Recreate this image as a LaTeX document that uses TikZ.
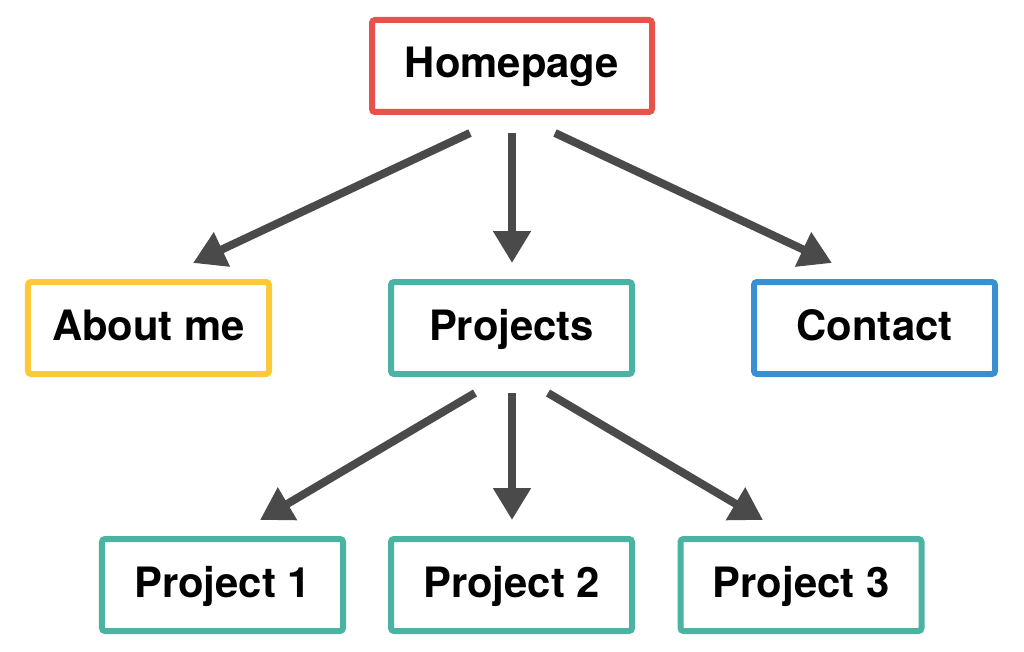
\documentclass[tikz,border=0pt]{standalone}
\usepackage{fontspec}
\setmainfont{TeX Gyre Heros}
\usetikzlibrary{arrows.meta}
\definecolor{cred}{HTML}{E5534B}
\definecolor{cyellow}{HTML}{FDC93A}
\definecolor{cteal}{HTML}{4AB3A2}
\definecolor{cblue}{HTML}{3A8FD0}
\definecolor{carrow}{HTML}{4A4A4A}
\tikzset{
  pagebox/.style={draw, line width=6bp, rounded corners=3bp, inner sep=0pt,
    minimum height=92bp, minimum width=241bp, fill=white,
    text height=30bp, text depth=6bp,
    font=\fontsize{41.8bp}{50bp}\selectfont\bfseries, text=black},
  link/.style={draw=carrow, line width=8bp, -{Triangle[length=32bp,width=36bp]}}
}
\begin{document}
\begin{tikzpicture}[x=1bp,y=-1bp]
\useasboundingbox (0,0) rectangle (1024,652);
\node[pagebox, draw=cred, minimum width=280bp] (home) at (512,66) {Homepage};
\node[pagebox, draw=cyellow] (about) at (148.5,328) {About me};
\node[pagebox, draw=cteal] (proj) at (511.5,328) {Projects};
\node[pagebox, draw=cblue] (contact) at (874.5,328) {Contact};
\node[pagebox, draw=cteal] (p1) at (222.5,585) {Project 1};
\node[pagebox, draw=cteal] (p2) at (511.5,585) {Project 2};
\node[pagebox, draw=cteal] (p3) at (801,585) {Project 3};
\coordinate (h1) at (470,133);
\coordinate (h2) at (512,133);
\coordinate (h3) at (555,133);
\coordinate (a1) at (193,263);
\coordinate (a2) at (512,263);
\coordinate (a3) at (832,263);
\coordinate (q1) at (475,393);
\coordinate (q2) at (512,393);
\coordinate (q3) at (548,393);
\coordinate (b1) at (260,520);
\coordinate (b2) at (512,520);
\coordinate (b3) at (763,520);
\draw[link] (h1) -- (a1);
\draw[link] (h2) -- (a2);
\draw[link] (h3) -- (a3);
\draw[link] (q1) -- (b1);
\draw[link] (q2) -- (b2);
\draw[link] (q3) -- (b3);
\end{tikzpicture}
\end{document}
